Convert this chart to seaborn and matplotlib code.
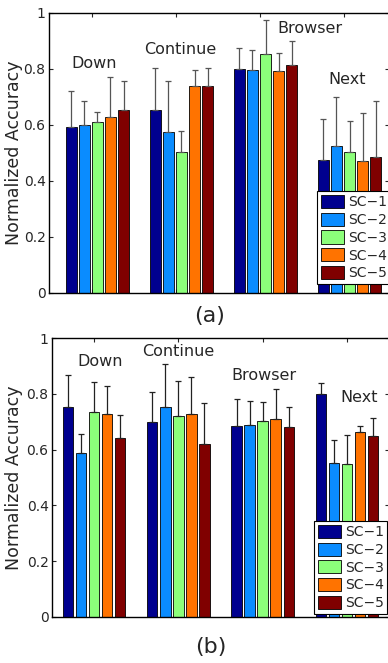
import numpy as np
import pandas as pd
import seaborn as sns
import matplotlib.pyplot as plt
from matplotlib.patches import Patch

gestures = ['Down', 'Continue', 'Browser', 'Next']
schemes = ['SC\u22121', 'SC\u22122', 'SC\u22123', 'SC\u22124', 'SC\u22125']
colors = ['#00008f', '#0a8cff', '#8cff7a', '#ff7300', '#800000']
yticks = [0, 0.2, 0.4, 0.6, 0.8, 1]
ytick_labels = ['0', '0.2', '0.4', '0.6', '0.8', '1']

# (a) one row per gesture, one value per scheme
acc_a = [[0.593, 0.600, 0.610, 0.628, 0.655],
         [0.655, 0.576, 0.504, 0.740, 0.740],
         [0.801, 0.796, 0.854, 0.794, 0.816],
         [0.475, 0.524, 0.504, 0.473, 0.484]]
err_a = [[0.128, 0.087, 0.035, 0.142, 0.101],
         [0.147, 0.182, 0.076, 0.056, 0.064],
         [0.075, 0.073, 0.120, 0.063, 0.083],
         [0.146, 0.177, 0.109, 0.169, 0.203]]

# (b)
acc_b = [[0.753, 0.588, 0.735, 0.726, 0.643],
         [0.700, 0.753, 0.720, 0.726, 0.620],
         [0.683, 0.687, 0.701, 0.710, 0.681],
         [0.799, 0.551, 0.547, 0.663, 0.649]]
err_b = [[0.116, 0.069, 0.107, 0.101, 0.080],
         [0.108, 0.155, 0.125, 0.133, 0.147],
         [0.098, 0.087, 0.070, 0.107, 0.072],
         [0.040, 0.085, 0.105, 0.020, 0.064]]


def to_frame(acc):
    rows = []
    for i, g in enumerate(gestures):
        for j, s in enumerate(schemes):
            rows.append({'gesture': g, 'scheme': s, 'acc': acc[i][j]})
    return pd.DataFrame(rows)


def draw_panel(ax, acc, err, label_xy, tick_shift, xlim, leg_anchor, ecolor):
    df = to_frame(acc)
    sns.barplot(data=df, x='gesture', y='acc', hue='scheme', order=gestures,
                hue_order=schemes, palette=colors, saturation=1, width=0.775,
                gap=0.2, edgecolor='black', linewidth=0.6, errorbar=None,
                legend=False, ax=ax)
    bars = list(ax.containers)
    # one-sided (upper) error bars on each bar centre
    for j, cont in enumerate(bars):
        xs = [b.get_x() + b.get_width() / 2 for b in cont]
        ys = [acc[i][j] for i in range(len(gestures))]
        up = [err[i][j] for i in range(len(gestures))]
        ax.errorbar(xs, ys, yerr=[np.zeros(len(up)), up], fmt='none',
                    ecolor=ecolor, elinewidth=0.9, capsize=2.2, capthick=0.9,
                    zorder=1)
    for g, (x, y) in zip(gestures, label_xy):
        ax.text(x, y, g, ha='center', va='center', fontsize=11.5)
    ax.set_xlim(*xlim)
    ax.set_ylim(0, 1)
    ax.set_xticks(np.arange(len(gestures)) + tick_shift)
    ax.set_xticklabels([])
    ax.set_yticks(yticks)
    ax.set_yticklabels(ytick_labels, fontsize=10)
    ax.set_xlabel('')
    ax.set_ylabel('Normalized Accuracy', fontsize=12.5)
    ax.tick_params(direction='in', top=True, right=True, length=3, width=0.8, pad=2.5)
    for sp in ax.spines.values():
        sp.set_visible(True)
        sp.set_linewidth(1.0)
        sp.set_color('black')
    handles = [Patch(facecolor=c, edgecolor='black', linewidth=0.6) for c in colors]
    ax.legend(handles, schemes, loc='lower left', bbox_to_anchor=leg_anchor,
              borderaxespad=0, fontsize=10, handlelength=1.65, handleheight=1.08,
              handletextpad=0.3, labelspacing=0.25, borderpad=0.27,
              fancybox=False, framealpha=1, edgecolor='black')
    ax.get_legend().get_frame().set_linewidth(0.8)


sns.set_theme(style='ticks')
plt.rcParams['font.family'] = ['DejaVu Sans']

fig = plt.figure(figsize=(3.88, 6.63), dpi=100)
ax_a = fig.add_axes([49 / 388, 370 / 663, 340 / 388, 280 / 663])
ax_b = fig.add_axes([52 / 388, 46 / 663, 337 / 388, 279 / 663])

draw_panel(ax_a, acc_a, err_a,
           [(-0.04, 0.818), (0.98, 0.868), (2.53, 0.943), (2.97, 0.764)],
           -0.063, (-0.577, 3.47), (0.788, 0.032), '#555555')
ax_a.yaxis.set_label_coords(-0.0765, 0.5)

draw_panel(ax_b, acc_b, err_b,
           [(0.066, 0.914), (0.994, 0.95), (2.012, 0.864), (3.14, 0.785)],
           0.0, (-0.5, 3.5), (0.777, 0.011), '#222222')
ax_b.yaxis.set_label_coords(-0.086, 0.5)

fig.text(210 / 388, 1 - 316 / 663, '(a)', ha='center', va='center', fontsize=16)
fig.text(211 / 388, 1 - 647 / 663, '(b)', ha='center', va='center', fontsize=16)

fig.savefig('out.png', dpi=100)
